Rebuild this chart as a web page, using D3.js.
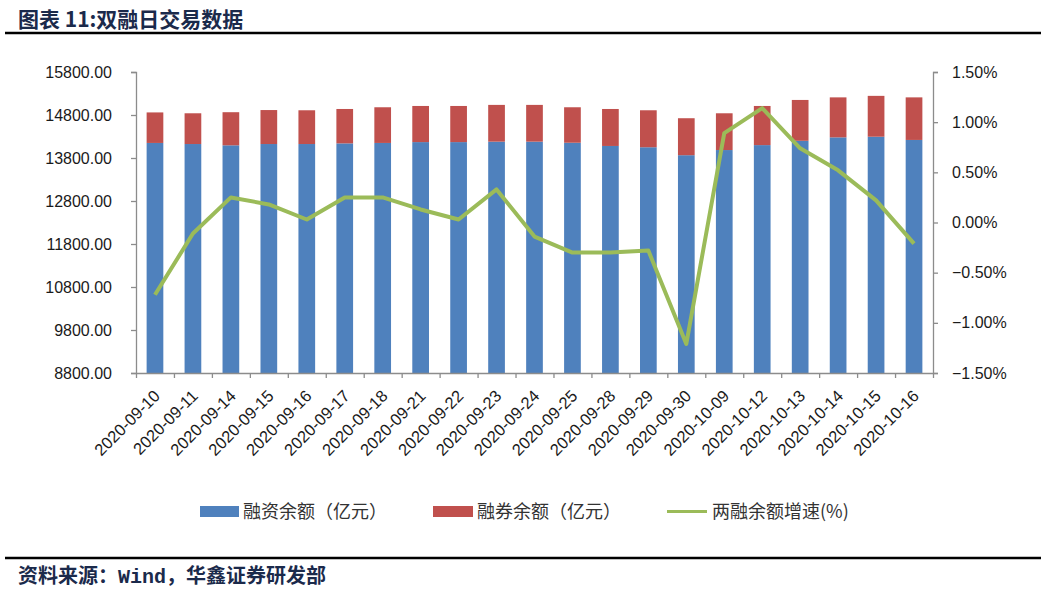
<!DOCTYPE html>
<html><head><meta charset="utf-8">
<script src="https://cdn.jsdelivr.net/npm/d3@7"></script>
<style>
body{margin:0;background:#fff;}
svg{display:block;font-family:"Liberation Sans","Noto Sans CJK SC",sans-serif;}
</style></head>
<body><svg id="c" width="1046" height="591"></svg>
<script>
const categories = ["2020-09-10","2020-09-11","2020-09-14","2020-09-15","2020-09-16","2020-09-17","2020-09-18","2020-09-21","2020-09-22","2020-09-23","2020-09-24","2020-09-25","2020-09-28","2020-09-29","2020-09-30","2020-10-09","2020-10-12","2020-10-13","2020-10-14","2020-10-15","2020-10-16"];
const financing = [14150,14125,14095,14125,14125,14140,14150,14170,14170,14180,14180,14155,14080,14050,13865,13985,14100,14200,14280,14295,14220];
const lending = [710,715,770,790,785,800,830,840,840,855,855,825,860,860,860,855,910,950,930,950,990];
const growth = [-0.72,-0.11,0.25,0.18,0.03,0.25,0.25,0.13,0.03,0.33,-0.14,-0.30,-0.30,-0.28,-1.21,0.89,1.14,0.74,0.52,0.22,-0.21];
const leftTicks = [8800,9800,10800,11800,12800,13800,14800,15800];
const rightTicks = [-1.5,-1.0,-0.5,0,0.5,1.0,1.5];
const seriesNames = ["融资余额（亿元）","融券余额（亿元）","两融余额增速(%)"];
const colors = ["#4f81bd","#c0504d","#9bbb59"];

const svg = d3.select("#c");
const x0 = 136, x1 = 933, yTop = 72, yBot = 373;
const x = d3.scaleBand().domain(categories).range([x0, x1]).paddingInner(0.56).paddingOuter(0.28);
const yL = d3.scaleLinear().domain([8800,15800]).range([yBot, yTop]);
const yR = d3.scaleLinear().domain([-1.5,1.5]).range([yBot, yTop]);

// title
svg.append("text").attr("x",18).attr("y",27).attr("font-size",21).attr("font-weight","bold")
  .attr("fill","#1b2a4b").attr("font-family","'Noto Sans CJK SC',sans-serif").text("图表 11:双融日交易数据");
svg.append("line").attr("x1",5).attr("x2",1041).attr("y1",33).attr("y2",33).attr("stroke","#000").attr("stroke-width",2.5);

// bars
const g = svg.append("g");
g.selectAll("rect.fin").data(categories).join("rect").attr("class","fin")
  .attr("x",d=>x(d)).attr("width",x.bandwidth())
  .attr("y",(d,i)=>yL(financing[i])).attr("height",(d,i)=>yL(8800)-yL(financing[i]))
  .attr("fill",colors[0]);
g.selectAll("rect.len").data(categories).join("rect").attr("class","len")
  .attr("x",d=>x(d)).attr("width",x.bandwidth())
  .attr("y",(d,i)=>yL(financing[i]+lending[i])).attr("height",(d,i)=>yL(financing[i])-yL(financing[i]+lending[i]))
  .attr("fill",colors[1]);

// axes
const axL = d3.axisLeft(yL).tickValues(leftTicks).tickFormat(d3.format(".2f")).tickSizeOuter(0).tickSize(5).tickPadding(19);
const gl = svg.append("g").attr("transform",`translate(${x0},0)`).call(axL);
const axR = d3.axisRight(yR).tickValues(rightTicks).tickFormat(d=>d3.format(".2f")(d)+"%").tickSizeOuter(0).tickSize(5).tickPadding(14);
const gr = svg.append("g").attr("transform",`translate(${x1},0)`).call(axR);
const xb = d3.scaleLinear().domain([0,categories.length]).range([x0,x1]);
const axB = d3.axisBottom(xb).tickValues(d3.range(categories.length+1)).tickFormat("").tickSize(5).tickSizeOuter(0);
const gb = svg.append("g").attr("transform",`translate(0,${yBot})`).call(axB);
[gl,gr,gb].forEach(a=>{
  a.selectAll("path,line").attr("stroke","#8c8c8c").attr("stroke-width",1.3);
  a.selectAll("text").attr("font-size",16).attr("fill","#1a1a1a").attr("font-family","'Liberation Sans',sans-serif");
});

// x labels
svg.append("g").selectAll("text").data(categories).join("text")
  .attr("transform",d=>`translate(${x(d)+x.bandwidth()/2+6},${yBot+24}) rotate(-45)`)
  .attr("text-anchor","end").attr("font-size",16.5).attr("fill","#1a1a1a")
  .attr("font-family","'Liberation Sans',sans-serif").text(d=>d);

// line
const line = d3.line().x((d,i)=>x(categories[i])+x.bandwidth()/2).y(d=>yR(d));
svg.append("path").datum(growth).attr("d",line).attr("fill","none")
  .attr("stroke",colors[2]).attr("stroke-width",4).attr("stroke-linejoin","round");

// legend
const lg = svg.append("g").attr("font-family","'Noto Sans CJK SC',sans-serif").attr("font-size",18).attr("fill","#333");
const lx = [200,433,667];
lg.append("rect").attr("x",lx[0]).attr("y",506).attr("width",39).attr("height",11).attr("fill",colors[0]);
lg.append("rect").attr("x",lx[1]).attr("y",506).attr("width",40).attr("height",11).attr("fill",colors[1]);
lg.append("line").attr("x1",lx[2]).attr("x2",lx[2]+40).attr("y1",511.5).attr("y2",511.5).attr("stroke",colors[2]).attr("stroke-width",3);
lg.append("text").attr("x",243).attr("y",518).text(seriesNames[0]);
lg.append("text").attr("x",477).attr("y",518).text(seriesNames[1]);
lg.append("text").attr("x",712).attr("y",518).text(seriesNames[2]);

// footer
svg.append("line").attr("x1",5).attr("x2",1041).attr("y1",558).attr("y2",558).attr("stroke","#000").attr("stroke-width",2.5);
const ft = svg.append("text").attr("x",18).attr("y",583).attr("font-size",20).attr("font-weight","bold")
  .attr("fill","#1b2a4b").attr("font-family","'Noto Sans CJK SC',sans-serif");
ft.append("tspan").text("资料来源：");
ft.append("tspan").attr("font-family","'Liberation Mono',monospace").text("Wind");
ft.append("tspan").text("，华鑫证券研发部");
</script></body></html>
